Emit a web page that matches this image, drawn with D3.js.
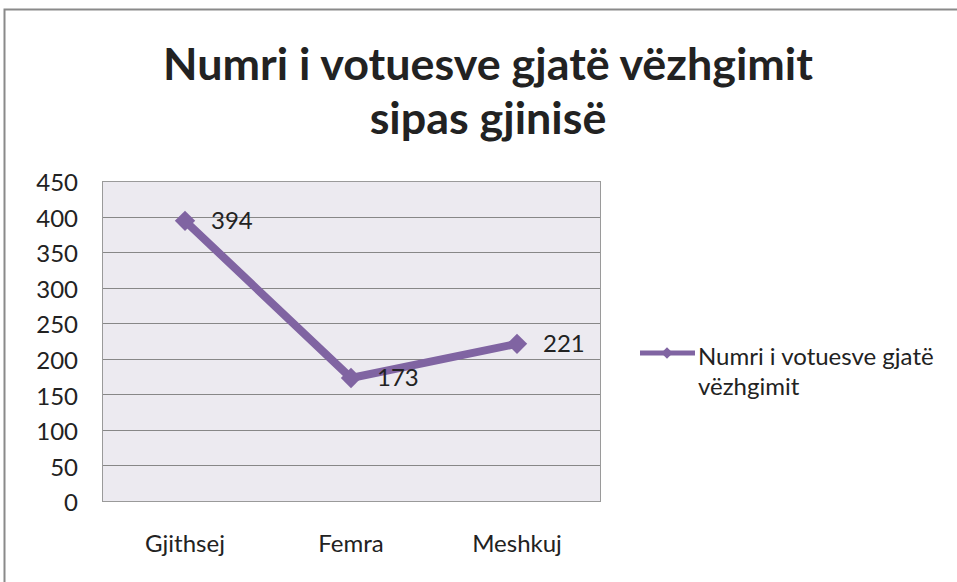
<!DOCTYPE html>
<html>
<head>
<meta charset="utf-8">
<script src="https://cdn.jsdelivr.net/npm/d3@7"></script>
<style>
  html, body { margin: 0; padding: 0; background: #fff; }
  svg { display: block; }
  text { font-family: "Lato", "Open Sans", "Noto Sans", sans-serif; fill: #222; }
</style>
</head>
<body>
<svg id="chart" width="957" height="582"></svg>
<script>
const titleLines = ["Numri i votuesve gjatë vëzhgimit", "sipas gjinisë"];
const categories = ["Gjithsej", "Femra", "Meshkuj"];
const values = [394, 173, 221];
const seriesName = ["Numri i votuesve gjatë", "vëzhgimit"];
const yTicks = [0, 50, 100, 150, 200, 250, 300, 350, 400, 450];

const svg = d3.select("#chart");
const W = 957, H = 582;
const plot = { left: 102, right: 600, top: 181, bottom: 501 };
const color = "#8064A2";
const FONT = "Lato, 'Open Sans', 'Noto Sans', sans-serif";

// outer chart border
svg.append("rect")
  .attr("x", 4.5).attr("y", 9.5)
  .attr("width", W + 20).attr("height", H + 20)
  .attr("fill", "#fff").attr("stroke", "#8a8a8a").attr("stroke-width", 2);

// title
const titleTargetWidth = 650;
const title = svg.append("g");
const t1 = title.append("text")
  .attr("x", 488).attr("y", 80)
  .attr("text-anchor", "middle")
  .attr("font-weight", "bold")
  .attr("font-size", 36)
  .text(titleLines[0]);
const w1 = t1.node().getComputedTextLength();
const tSize = 36 * titleTargetWidth / w1;
t1.attr("font-size", tSize);
title.append("text")
  .attr("x", 488).attr("y", 134)
  .attr("text-anchor", "middle")
  .attr("font-weight", "bold")
  .attr("font-size", tSize)
  .text(titleLines[1]);

const x = d3.scaleBand().domain(categories).range([plot.left, plot.right]);
const y = d3.scaleLinear().domain([0, 450]).range([plot.bottom, plot.top]);

// plot background
svg.append("rect")
  .attr("x", plot.left).attr("y", plot.top)
  .attr("width", plot.right - plot.left).attr("height", plot.bottom - plot.top)
  .attr("fill", "#ECEAF0");

// gridlines
svg.append("g").selectAll("line").data(yTicks).join("line")
  .attr("x1", plot.left).attr("x2", plot.right)
  .attr("y1", d => Math.round(y(d)) + 0.5).attr("y2", d => Math.round(y(d)) + 0.5)
  .attr("stroke", "#878787").attr("stroke-width", 1);

// plot border
svg.append("rect")
  .attr("x", plot.left + 0.5).attr("y", plot.top + 0.5)
  .attr("width", plot.right - plot.left).attr("height", plot.bottom - plot.top)
  .attr("fill", "none").attr("stroke", "#9a9a9a").attr("stroke-width", 1);

// y axis labels
const yAxis = d3.axisLeft(y).tickValues(yTicks).tickSize(0).tickPadding(0);
const yg = svg.append("g").attr("transform", `translate(78,2)`).call(yAxis);
yg.select(".domain").remove();
yg.selectAll("text").attr("font-size", 24).attr("fill", "#222")
  .attr("font-family", FONT);

// x axis labels
const xAxis = d3.axisBottom(x).tickSize(0).tickPadding(0);
const xg = svg.append("g").attr("transform", `translate(0,535)`).call(xAxis);
xg.select(".domain").remove();
xg.selectAll("text").attr("font-size", 24).attr("fill", "#222")
  .attr("font-family", FONT);

// line
const pts = categories.map((c, i) => [x(c) + x.bandwidth() / 2, y(values[i])]);
svg.append("path")
  .attr("d", d3.line()(pts))
  .attr("fill", "none").attr("stroke", color)
  .attr("stroke-width", 8).attr("stroke-linejoin", "round");

// markers
const diamond = d3.symbol().type(d3.symbolDiamond2).size(265);
svg.append("g").selectAll("path").data(pts).join("path")
  .attr("transform", d => `translate(${d[0]},${d[1]})`)
  .attr("d", diamond)
  .attr("fill", color);

// data labels
svg.append("g").selectAll("text").data(pts).join("text")
  .attr("x", d => d[0] + 26)
  .attr("y", d => d[1] + 2)
  .attr("dominant-baseline", "middle")
  .attr("font-size", 24)
  .text((d, i) => values[i]);

// legend
const lg = svg.append("g");
lg.append("line")
  .attr("x1", 640).attr("x2", 695).attr("y1", 353).attr("y2", 353)
  .attr("stroke", color).attr("stroke-width", 5);
lg.append("path")
  .attr("transform", "translate(667,353)")
  .attr("d", d3.symbol().type(d3.symbolDiamond2).size(85))
  .attr("fill", color);
lg.selectAll("text").data(seriesName).join("text")
  .attr("x", 698)
  .attr("y", (d, i) => 365 + i * 30)
  .attr("font-size", 24)
  .text(d => d);
</script>
</body>
</html>
